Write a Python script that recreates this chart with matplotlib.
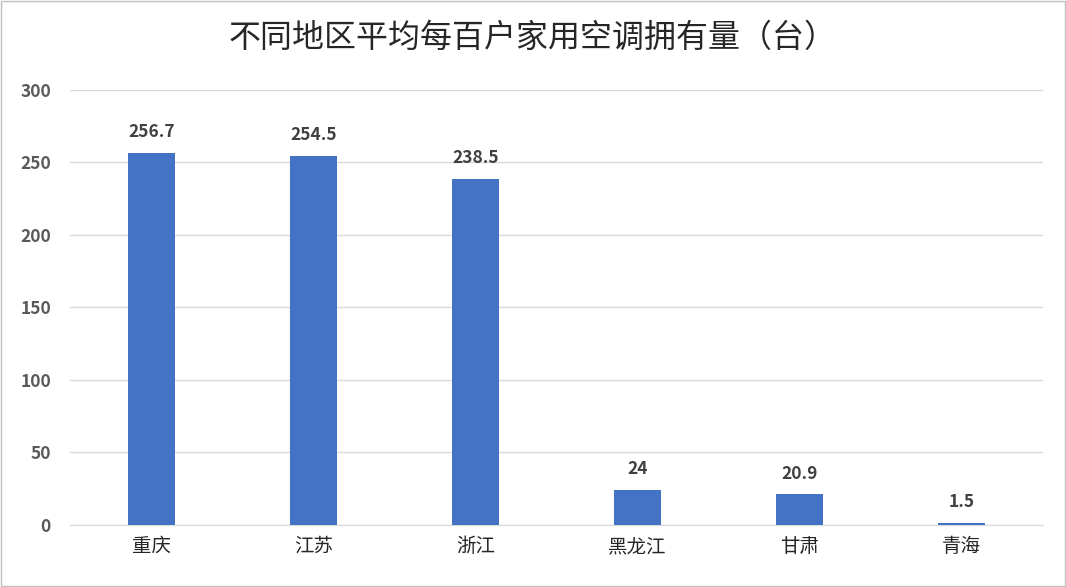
import matplotlib
matplotlib.use("Agg")
import matplotlib.pyplot as plt
from matplotlib.patches import Rectangle

plt.rcParams['font.family'] = ['Noto Sans CJK SC', 'DejaVu Sans']

categories = ['重庆', '江苏', '浙江', '黑龙江', '甘肃', '青海']
values = [256.7, 254.5, 238.5, 24, 20.9, 1.5]
labels = ['256.7', '254.5', '238.5', '24', '20.9', '1.5']
yticks = [0, 50, 100, 150, 200, 250, 300]

fig = plt.figure(figsize=(10.66, 5.87), dpi=100)
ax = fig.add_axes([0.066, 0.106, 0.912, 0.741])
x = range(len(categories))
ax.bar(x, values, width=0.29, color='#4472C4', zorder=3)
for xi, v, l in zip(x, values, labels):
    ax.text(xi, v + 8, l, ha='center', va='bottom', fontsize=12.5, fontweight='bold', color='#404040')
ax.set_xlim(-0.5, 5.5)
ax.set_ylim(0, 300)
ax.set_yticks(yticks)
ax.set_xticks(list(x))
ax.set_xticklabels(categories, fontsize=14, color='#262626')
ax.tick_params(axis='y', labelsize=12.5, colors='#595959', length=0, pad=14)
ax.tick_params(axis='x', length=0, pad=8)
for t in ax.get_yticklabels():
    t.set_fontweight('bold')
ax.grid(axis='y', color='#D9D9D9', linewidth=1, zorder=0)
for s in ['top', 'right', 'left']:
    ax.spines[s].set_visible(False)
ax.spines['bottom'].set_color('#D9D9D9')
fig.text(0.5, 0.935, '不同地区平均每百户家用空调拥有量（台）', ha='center', va='center', fontsize=23, color='#262626')
fig.patches.append(Rectangle((0.001, 0.001), 0.998, 0.998, transform=fig.transFigure, fill=False, edgecolor='#BFBFBF', linewidth=1))
fig.savefig('out.png', dpi=100)
